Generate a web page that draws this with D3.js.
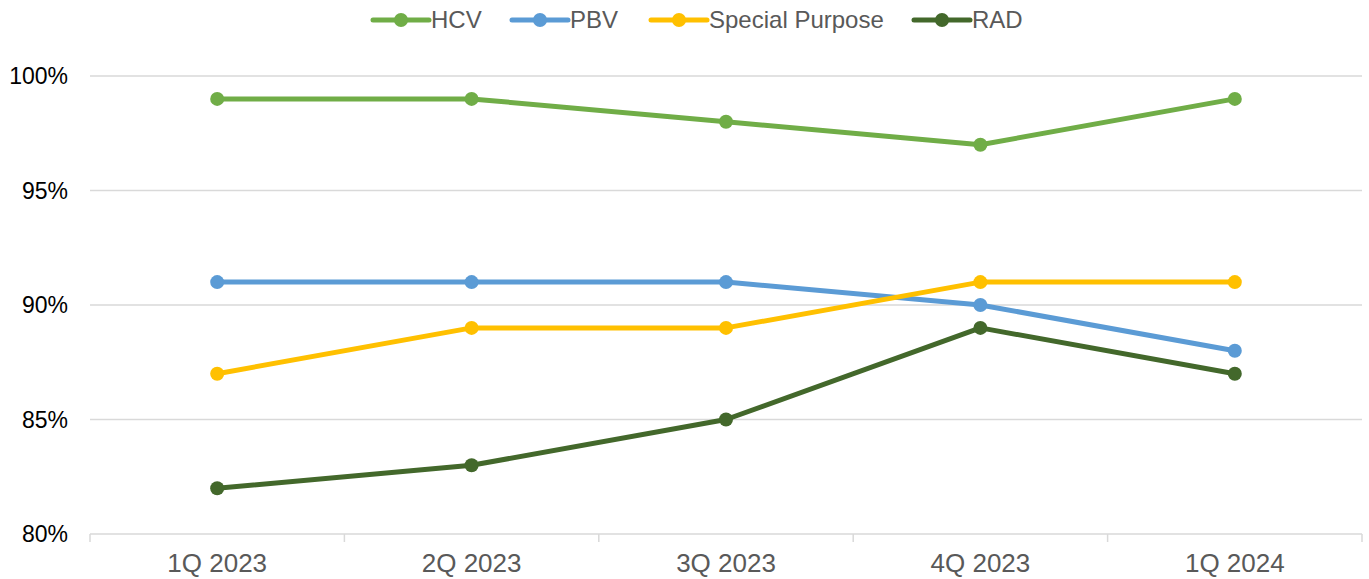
<!DOCTYPE html>
<html>
<head>
<meta charset="utf-8">
<script src="https://cdn.jsdelivr.net/npm/d3@7"></script>
<style>
  body { margin: 0; background: #fff; }
  svg { display: block; font-family: "Liberation Sans", Arial, sans-serif; }
</style>
</head>
<body>
<div id="chart"></div>
<script>
var quarters = ["1Q 2023", "2Q 2023", "3Q 2023", "4Q 2023", "1Q 2024"];
var hcv = [99, 99, 98, 97, 99];
var pbv = [91, 91, 91, 90, 88];
var specialPurpose = [87, 89, 89, 91, 91];
var rad = [82, 83, 85, 89, 87];
var yTicks = [80, 85, 90, 95, 100];

var series = [
  { name: "HCV", values: hcv, color: "#70ad47" },
  { name: "PBV", values: pbv, color: "#5b9bd5" },
  { name: "Special Purpose", values: specialPurpose, color: "#ffc000" },
  { name: "RAD", values: rad, color: "#43682b" }
];

var w = 1369, h = 579;
var plotLeft = 90, plotRight = 1362, plotTop = 76, plotBottom = 534;

var svg = d3.select("#chart").append("svg")
  .attr("width", w)
  .attr("height", h);

var x = d3.scaleBand()
  .domain(quarters)
  .range([plotLeft, plotRight]);

var y = d3.scaleLinear()
  .domain([80, 100])
  .range([plotBottom, plotTop]);

// gridlines
svg.append("g")
  .selectAll("line")
  .data(yTicks.filter(function(d) { return d > 80; }))
  .enter()
  .append("line")
  .attr("x1", plotLeft)
  .attr("x2", plotRight)
  .attr("y1", function(d) { return y(d); })
  .attr("y2", function(d) { return y(d); })
  .attr("stroke", "#d9d9d9")
  .attr("stroke-width", 1.5);

// y labels
svg.append("g")
  .selectAll("text")
  .data(yTicks)
  .enter()
  .append("text")
  .attr("x", 68)
  .attr("y", function(d) { return y(d); })
  .attr("dy", "0.35em")
  .attr("text-anchor", "end")
  .attr("font-size", "23px")
  .attr("fill", "#000")
  .text(function(d) { return d + "%"; });

// x axis
var xAxis = d3.axisBottom(x).tickSize(0).tickPadding(20);
var gx = svg.append("g")
  .attr("transform", "translate(0," + plotBottom + ")")
  .call(xAxis);
gx.select(".domain").remove();
gx.selectAll("text")
  .attr("font-size", "26px")
  .attr("fill", "#595959")
  .attr("font-family", "Liberation Sans, Arial, sans-serif");

svg.append("line")
  .attr("x1", plotLeft).attr("x2", plotRight)
  .attr("y1", plotBottom).attr("y2", plotBottom)
  .attr("stroke", "#d9d9d9")
  .attr("stroke-width", 1.5);

var bounds = quarters.map(function(q) { return x(q); }).concat([plotRight]);
svg.append("g")
  .selectAll("line")
  .data(bounds)
  .enter()
  .append("line")
  .attr("x1", function(d) { return d; })
  .attr("x2", function(d) { return d; })
  .attr("y1", plotBottom)
  .attr("y2", plotBottom + 8)
  .attr("stroke", "#d9d9d9")
  .attr("stroke-width", 1.5);

// lines
var line = d3.line()
  .x(function(d, i) { return x(quarters[i]) + x.bandwidth() / 2; })
  .y(function(d) { return y(d); });

series.forEach(function(s) {
  svg.append("path")
    .datum(s.values)
    .attr("d", line)
    .attr("fill", "none")
    .attr("stroke", s.color)
    .attr("stroke-width", 5)
    .attr("stroke-linejoin", "round");

  svg.append("g")
    .selectAll("circle")
    .data(s.values)
    .enter()
    .append("circle")
    .attr("cx", function(d, i) { return x(quarters[i]) + x.bandwidth() / 2; })
    .attr("cy", function(d) { return y(d); })
    .attr("r", 7)
    .attr("fill", s.color);
});

// legend
var legendX = [373, 512, 651, 914];
var legend = svg.append("g")
  .selectAll("g")
  .data(series)
  .enter()
  .append("g")
  .attr("transform", function(d, i) { return "translate(" + legendX[i] + ",20)"; });

legend.append("line")
  .attr("x1", 0).attr("x2", 56)
  .attr("y1", 0).attr("y2", 0)
  .attr("stroke", function(d) { return d.color; })
  .attr("stroke-width", 5)
  .attr("stroke-linecap", "round");

legend.append("circle")
  .attr("cx", 28)
  .attr("cy", 0)
  .attr("r", 7)
  .attr("fill", function(d) { return d.color; });

legend.append("text")
  .attr("x", 58)
  .attr("y", 0)
  .attr("dy", "0.35em")
  .attr("font-size", "24px")
  .attr("fill", "#595959")
  .text(function(d) { return d.name; });
</script>
</body>
</html>
